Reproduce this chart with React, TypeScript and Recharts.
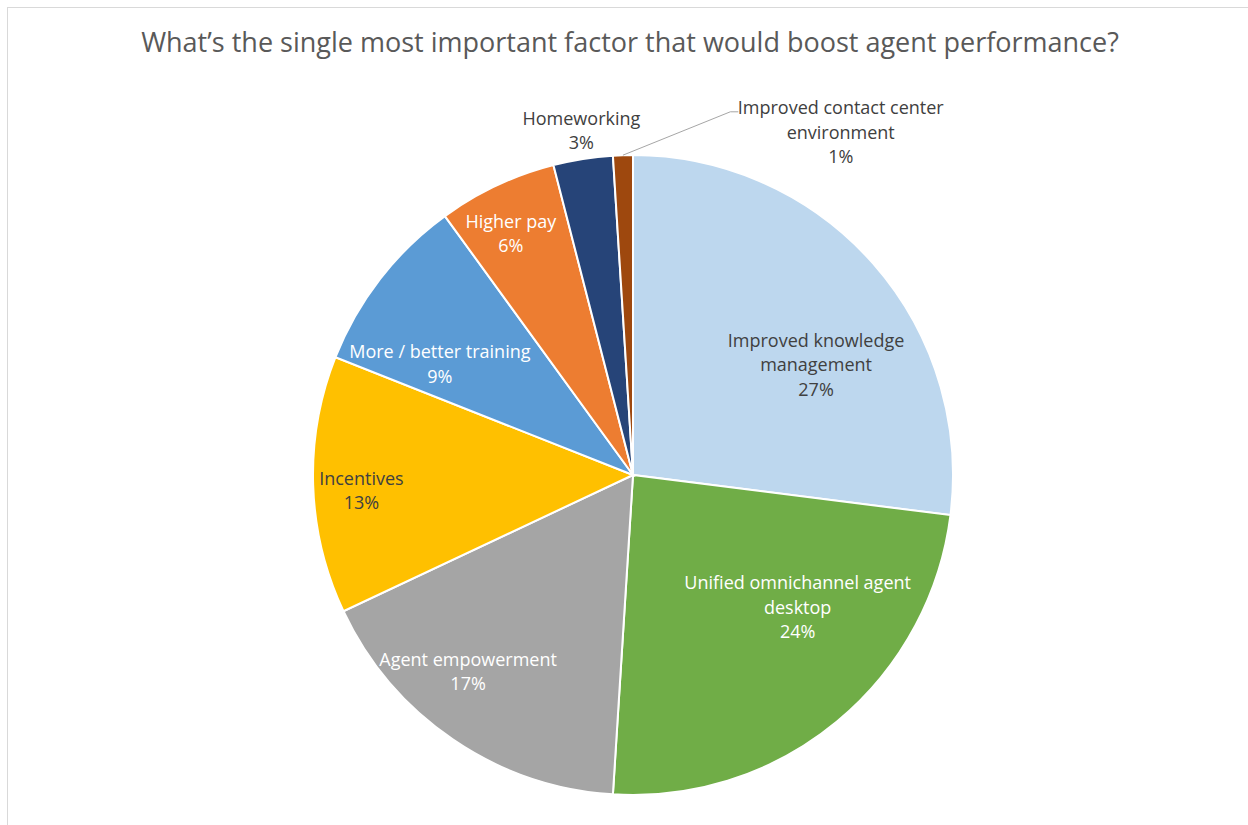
import React from 'react';
import { PieChart, Pie, Cell } from 'recharts';

const categories = [
  'Improved knowledge\nmanagement',
  'Unified omnichannel agent\ndesktop',
  'Agent empowerment',
  'Incentives',
  'More / better training',
  'Higher pay',
  'Homeworking',
  'Improved contact center\nenvironment',
];
const shares = [27, 24, 17, 13, 9, 6, 3, 1];
const colors = ['#BDD7EE', '#70AD47', '#A5A5A5', '#FFC000', '#5B9BD5', '#ED7D31', '#264478', '#9E480E'];

const data = categories.map((name, i) => ({ name, value: shares[i] }));

const W = 1241;
const H = 818;
const CX = 621;
const CY = 463;
const R = 320;
const RAD = Math.PI / 180;
const LH = 24.5;

// label placement: radius and angle shift (clockwise, degrees) from the slice middle
const labelPlace = [
  { r: 214, shift: 10.2, fill: '#404040' },
  { r: 211, shift: -11.7, fill: '#ffffff' },
  { r: 256, shift: 5.9, fill: '#ffffff' },
  { r: 272, shift: -1.4, fill: '#404040' },
  { r: 223, shift: -7.8, fill: '#ffffff' },
  { r: 271, shift: -1.6, fill: '#ffffff' },
  { r: 349, shift: 0.5, fill: '#404040' },
  { r: 401, shift: 33, fill: '#404040' },
];

const renderLabel = (props: any) => {
  const { cx, cy, midAngle, index, name, value } = props;
  const polar = (r: number, a: number) => ({
    x: cx + r * Math.cos(-a * RAD),
    y: cy + r * Math.sin(-a * RAD),
  });
  const p = labelPlace[index];
  const pos = polar(p.r, midAngle - p.shift);
  const lines = [...String(name).split('\n'), `${value}%`];
  const y0 = pos.y - ((lines.length - 1) / 2) * LH;
  let leader = null;
  if (index === 7) {
    const a = polar(R, midAngle);
    const e = polar(376, midAngle - 16.8);
    leader = (
      <polyline
        points={`${a.x},${a.y} ${e.x},${e.y} ${e.x + 8},${e.y}`}
        fill="none"
        stroke="#a6a6a6"
        strokeWidth={1}
      />
    );
  }
  return (
    <g key={`lbl-${index}`}>
      {leader}
      <text
        x={pos.x}
        y={y0}
        textAnchor="middle"
        dominantBaseline="central"
        fill={p.fill}
        fontSize={18}
        fontFamily="'Open Sans', sans-serif"
      >
        {lines.map((ln, i) => (
          <tspan key={i} x={pos.x} y={y0 + i * LH}>
            {ln}
          </tspan>
        ))}
      </text>
    </g>
  );
};

export default function App() {
  return (
    <div
      style={{
        position: 'absolute',
        left: 7,
        top: 7,
        width: W,
        height: H,
        borderTop: '1px solid #d9d9d9',
        borderLeft: '1px solid #d9d9d9',
        boxSizing: 'border-box',
        background: '#fff',
      }}
    >
      <PieChart width={W} height={H} style={{ position: 'absolute', left: -1, top: -1 }}>
        <text
          x={623}
          y={45}
          textAnchor="middle"
          fontSize={27}
          fill="#595959"
          fontFamily="'Open Sans', sans-serif"
        >
          What’s the single most important factor that would boost agent performance?
        </text>
        <Pie
          data={data}
          dataKey="value"
          nameKey="name"
          cx={CX}
          cy={CY}
          outerRadius={R}
          startAngle={90}
          endAngle={-270}
          stroke="#ffffff"
          strokeWidth={2}
          label={renderLabel}
          labelLine={false}
          isAnimationActive={false}
        >
          {data.map((d, i) => (
            <Cell key={d.name} fill={colors[i]} />
          ))}
        </Pie>
      </PieChart>
    </div>
  );
}
